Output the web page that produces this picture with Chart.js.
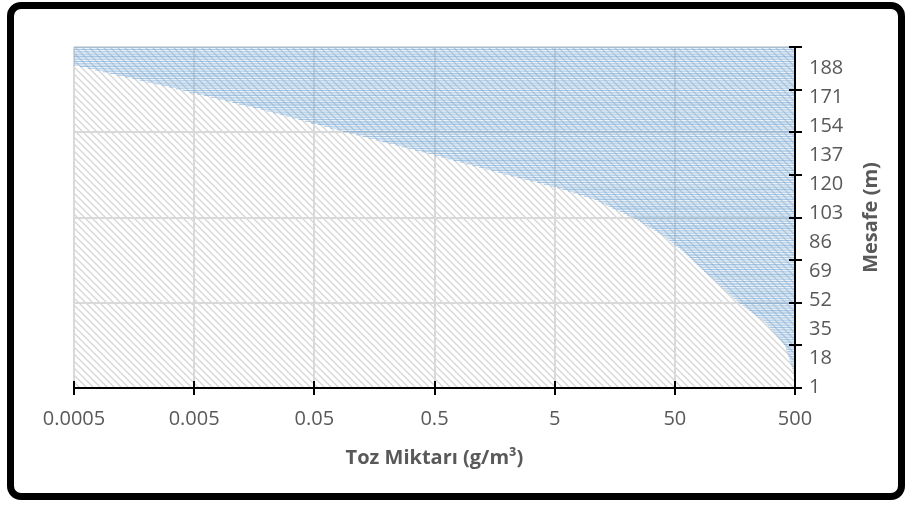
<!DOCTYPE html>
<html><head><meta charset="utf-8">
<script src="https://cdn.jsdelivr.net/npm/chart.js@4"></script>
<style>
html,body{margin:0;padding:0;background:#fff;}
#wrap{position:relative;width:912px;height:508px;overflow:hidden;}
#c{position:absolute;left:0;top:0;}
#frame{position:absolute;left:7px;top:2px;width:898px;height:498px;border:7px solid #000;border-radius:14px;box-sizing:border-box;pointer-events:none;}
</style></head><body>
<div id="wrap"><canvas id="c" width="912" height="508"></canvas><div id="frame"></div></div>
<script>
// Distance categories (m)
const distances = [1,2,3,4,5,6,7,8,9,10,11,12,13,14,15,16,17,18,19,20,21,22,23,24,25,26,27,28,29,30,31,32,33,34,35,36,37,38,39,40,41,42,43,44,45,46,47,48,49,50,51,52,53,54,55,56,57,58,59,60,61,62,63,64,65,66,67,68,69,70,71,72,73,74,75,76,77,78,79,80,81,82,83,84,85,86,87,88,89,90,91,92,93,94,95,96,97,98,99,100,101,102,103,104,105,106,107,108,109,110,111,112,113,114,115,116,117,118,119,120,121,122,123,124,125,126,127,128,129,130,131,132,133,134,135,136,137,138,139,140,141,142,143,144,145,146,147,148,149,150,151,152,153,154,155,156,157,158,159,160,161,162,163,164,165,166,167,168,169,170,171,172,173,174,175,176,177,178,179,180,181,182,183,184,185,186,187,188,189,190,191,192,193,194,195,196,197,198,199,200];
// Dust amount (g/m3) read per distance
const dust = [
500,498,496,494,493,491,489,488,486,484,
479,474,469,465,460,455,450,446,441,437,
432,427,422,418,413,403,392,382,373,363,
353,343,334,324,315,307,298,290,282,
270,258,247,236,226,217,207,198,190,182,174,
168,162,156,150,145,140,135,130,125,121,117,113,109,105,
101,97.5,94.1,90.8,87.6,84.6,81.6,78.8,76.0,73.4,70.8,
68.4,66.1,63.8,61.7,59.6,57.5,
55.2,53.0,50.9,48.9,46.9,45.0,43.2,41.5,39.8,
37.7,35.6,33.7,31.9,30.2,28.6,27.0,25.6,24.2,22.9,
21.4,20.0,18.6,17.4,16.2,15.1,14.1,13.2,12.3,11.5,10.7,
9.68,8.74,7.89,7.13,6.44,5.81,5.25,
4.62,4.06,3.57,3.14,2.76,2.43,2.14,
1.89,1.68,1.49,1.32,1.17,1.04,0.917,0.813,0.720,0.638,0.566,0.501,
0.442,0.390,0.344,0.303,0.267,0.236,0.208,0.183,0.162,0.142,0.126,0.111,0.0977,
0.0865,0.0766,0.0678,0.0601,0.0532,0.0471,0.0417,0.0369,0.0327,0.0289,0.0256,0.0227,0.0201,0.0178,
0.0155,0.0136,0.0118,0.0104,0.00904,0.00790,0.00690,0.00603,
0.00527,0.00461,0.00403,0.00352,0.00308,0.00269,
0.00234,0.00203,0.00176,0.00153,0.00133,0.00115,0.00100,
0.000866,0.000750,0.000649,0.000562,
0.0005,0.0005,0.0005,0.0005,0.0005,0.0005,0.0005,0.0005,0.0005,0.0005,0.0005];
const barBase = 500;
const xTickValues = [0.0005,0.005,0.05,0.5,5,50,500];
const xTickLabels = ['0.0005','0.005','0.05','0.5','5','50','500'];
const yLabelValues = [1,18,35,52,69,86,103,120,137,154,171,188];
const yTickValues = [0.5,25.5,50.5,75.5,100.5,125.5,150.5,175.5,200.5];
const yGridValues = [50.5,100.5,150.5,200.5];
const xTitle = 'Toz Miktarı (g/m³)';
const yTitle = 'Mesafe (m)';

Chart.defaults.font.family = '"Open Sans", "DejaVu Sans", sans-serif';
Chart.defaults.color = '#595959';

// hatch pattern for plot area
const tile = document.createElement('canvas');
tile.width = 7; tile.height = 7;
const tc = tile.getContext('2d');
tc.strokeStyle = '#d6d6d6'; tc.lineWidth = 1.3;
tc.beginPath();
tc.moveTo(-1,-1); tc.lineTo(8,8);
tc.moveTo(-1,6); tc.lineTo(1,8);
tc.moveTo(6,-1); tc.lineTo(8,1);
tc.stroke();
const hatch = tc.createPattern(tile,'repeat');

const hatchPlugin = {
  id:'hatch',
  beforeDraw(chart){
    const {ctx, chartArea:a} = chart;
    ctx.save(); ctx.fillStyle = hatch;
    ctx.fillRect(a.left, a.top, a.right-a.left, a.bottom-a.top);
    ctx.restore();
  }
};
const crossTicks = {
  id:'crossTicks',
  afterDatasetsDraw(chart){
    const {ctx, chartArea:a, scales} = chart;
    ctx.save(); ctx.strokeStyle='#000'; ctx.lineWidth=2;
    ctx.beginPath();
    scales.x.ticks.forEach(t=>{const px=Math.round(scales.x.getPixelForValue(t.value)); ctx.moveTo(px,a.bottom-7); ctx.lineTo(px,a.bottom);});
    scales.yTicks.ticks.forEach(t=>{const py=Math.round(scales.yTicks.getPixelForValue(t.value)); ctx.moveTo(a.right-6,py); ctx.lineTo(a.right,py);});
    ctx.stroke();
    ctx.beginPath(); ctx.moveTo(a.right,a.top); ctx.lineTo(a.right,a.bottom+1); ctx.stroke();
    ctx.restore();
  },
  afterDraw(chart){
    const {ctx, chartArea:a} = chart;
    ctx.save();
    ctx.translate(a.right+76,(a.top+a.bottom)/2);
    ctx.rotate(-Math.PI/2);
    ctx.font = 'bold 20px "Open Sans"';
    ctx.fillStyle = '#595959';
    ctx.textAlign='center'; ctx.textBaseline='middle';
    ctx.fillText(yTitle,0,0);
    ctx.restore();
  }
};

new Chart(document.getElementById('c'), {
  type:'bar',
  data:{
    datasets:[{
      data: distances.map((d,i)=>({y:d, x:[dust[i], barBase]})),
      backgroundColor:'rgba(91,155,213,0.55)',
      borderWidth:0,
      barPercentage:1,
      categoryPercentage:0.6,
      yAxisID:'y', xAxisID:'x'
    }]
  },
  options:{
    indexAxis:'y',
    responsive:false,
    animation:false,
    layout:{padding:{left:74, top:47, right:0, bottom:0}},
    plugins:{legend:{display:false}, tooltip:{enabled:false}},
    scales:{
      x:{
        type:'logarithmic', position:'bottom', min:0.0005, max:500, offset:false,
        afterBuildTicks:s=>{s.ticks = xTickValues.map(v=>({value:v}));},
        afterFit:s=>{s.height=120;},
        ticks:{autoSkip:false, maxRotation:0, font:{size:20}, color:'#595959', padding:12,
          callback:(v,i)=>xTickLabels[i]},
        grid:{color:c=>(c.tick && c.tick.value===500)?'rgba(0,0,0,0)':'#d9d9d9', lineWidth:2, offset:false,
          drawTicks:true, tickLength:7, tickColor:'#000', tickWidth:2},
        border:{display:true, color:'#000', width:2},
        title:{display:true, text:xTitle, color:'#595959', font:{size:20, weight:'bold'}, padding:{top:0,bottom:38}}
      },
      yGrid:{
        type:'linear', position:'left', min:0.5, max:200.5, offset:false,
        afterBuildTicks:s=>{s.ticks = yGridValues.map(v=>({value:v}));},
        afterFit:s=>{s.width=0;},
        ticks:{display:false},
        grid:{color:'#d9d9d9', lineWidth:2, drawTicks:false, offset:false},
        border:{display:false}
      },
      yTicks:{
        type:'linear', position:'right', weight:1, min:0.5, max:200.5, offset:false,
        afterBuildTicks:s=>{s.ticks = yTickValues.map(v=>({value:v}));},
        afterFit:s=>{s.width=10;},
        ticks:{display:false},
        grid:{drawOnChartArea:false, drawTicks:true, tickLength:7, tickColor:'#000', tickWidth:2, lineWidth:2, offset:false},
        border:{display:true, color:'#000', width:2}
      },
      y:{
        type:'linear', position:'right', weight:2, min:0.5, max:200.5, offset:false,
        afterBuildTicks:s=>{s.ticks = yLabelValues.map(v=>({value:v}));},
        afterFit:s=>{s.width=107;},
        ticks:{font:{size:20}, color:'#595959', padding:4, autoSkip:false, callback:v=>String(v)},
        grid:{display:false, drawTicks:false, offset:false},
        border:{display:false}
      }
    }
  },
  plugins:[hatchPlugin, crossTicks]
});
</script>
</body></html>
